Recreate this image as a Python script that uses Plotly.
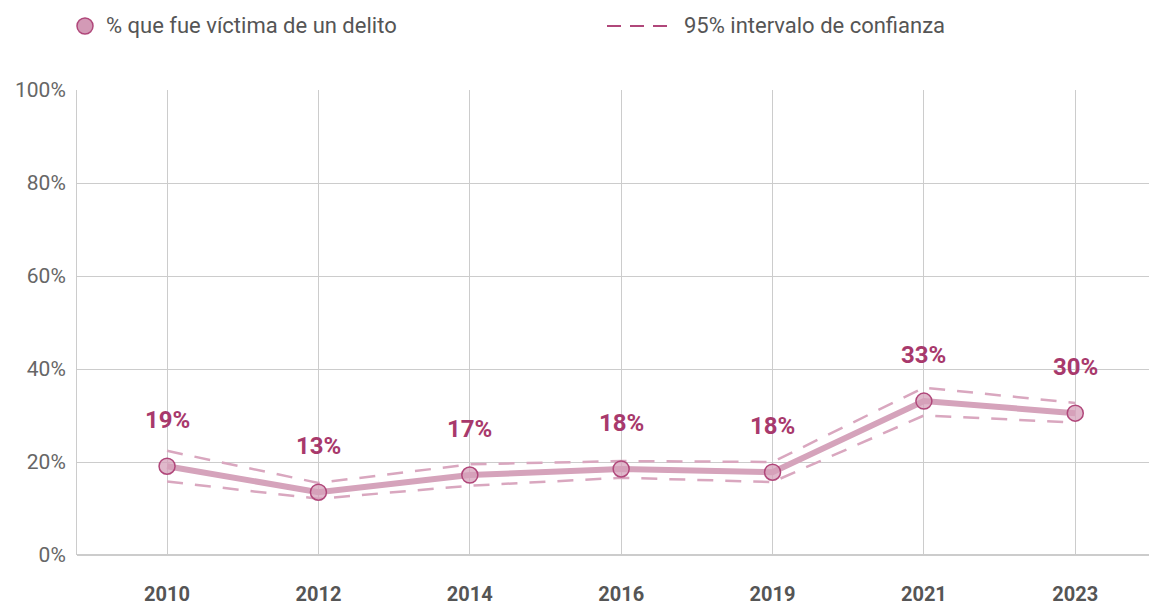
import plotly.graph_objects as go

years = ["2010", "2012", "2014", "2016", "2019", "2021", "2023"]
victim_pct = [19.1, 13.5, 17.2, 18.5, 17.8, 33.1, 30.5]
ci_upper = [22.4, 15.5, 19.5, 20.2, 20.0, 36.0, 32.7]
ci_lower = [15.8, 12.1, 14.9, 16.6, 15.7, 30.0, 28.5]
labels = ["19%", "13%", "17%", "18%", "18%", "33%", "30%"]
y_ticks = [0, 20, 40, 60, 80, 100]
y_ticktext = [f"{v}%" for v in y_ticks]

LINE = "#d5a3bb"
DARK = "#a8396c"
FONT = "Roboto"

# page body has an 8px margin
W, H = 1149, 597
L, T, B, R = 69, 82, 50, 0
PW, PH = W - L - R, H - T - B

fig = go.Figure()
for ci in (ci_upper, ci_lower):
    fig.add_trace(go.Scatter(
        x=years, y=ci, mode="lines",
        line=dict(color="#d9a7bf", width=2.5, dash="16px,12px"),
        showlegend=False, hoverinfo="skip"))
fig.add_trace(go.Scatter(
    x=years, y=victim_pct, mode="lines+markers",
    line=dict(color=LINE, width=6),
    marker=dict(size=16, color="rgba(214,160,186,0.75)",
                line=dict(color="#b0477a", width=1.5)),
    showlegend=False))

for i, (v, t) in enumerate(zip(victim_pct, labels)):
    fig.add_annotation(x=i, y=v, xref="x", yref="y", text=f"<b>{t}</b>",
                       showarrow=False, yshift=46,
                       font=dict(family=FONT, size=24, color=DARK))

# legend (manual)
leg_y = 1 + 64 / PH
fig.add_shape(type="circle", xref="paper", yref="paper",
              xsizemode="pixel", ysizemode="pixel",
              xanchor=8 / PW, yanchor=leg_y,
              x0=-8, x1=8, y0=-8, y1=8,
              fillcolor="#d39ab6", line=dict(color="#b0477a", width=1.5))
fig.add_annotation(xref="paper", yref="paper", x=27 / PW,
                   y=leg_y, xanchor="left", yanchor="middle",
                   text="% que fue víctima de un delito", showarrow=False,
                   font=dict(family=FONT, size=22, color="#555555"))
fig.add_shape(type="line", xref="paper", yref="paper",
              x0=530 / PW, x1=591 / PW, y0=leg_y, y1=leg_y,
              line=dict(color="#b0477a", width=2, dash="14px,9px"))
fig.add_annotation(xref="paper", yref="paper", x=605 / PW,
                   y=leg_y, xanchor="left", yanchor="middle",
                   text="95% intervalo de confianza", showarrow=False,
                   font=dict(family=FONT, size=22, color="#555555"))

fig.update_layout(
    width=W, height=H,
    margin=dict(l=L, r=R, t=T, b=B),
    paper_bgcolor="white", plot_bgcolor="white",
    font=dict(family=FONT),
    showlegend=False,
    xaxis=dict(type="category", range=[-0.595, 6.54], showgrid=True,
               automargin=False,
               gridcolor="#cccccc", gridwidth=1, showline=False,
               zeroline=False, ticks="", ticklabelstandoff=25,
               tickfont=dict(family=FONT, size=20, color="#555555",
                             weight="bold")),
    yaxis=dict(range=[0, 100], tickvals=y_ticks, ticktext=y_ticktext,
               automargin=False,
               showgrid=True, gridcolor="#cccccc", gridwidth=1,
               showline=True, linecolor="#cccccc", linewidth=1,
               zeroline=True, zerolinecolor="#cccccc", zerolinewidth=2,
               ticks="", ticklabelstandoff=6,
               tickfont=dict(family=FONT, size=21, color="#666666")),
)

fig.write_html("out.html")
